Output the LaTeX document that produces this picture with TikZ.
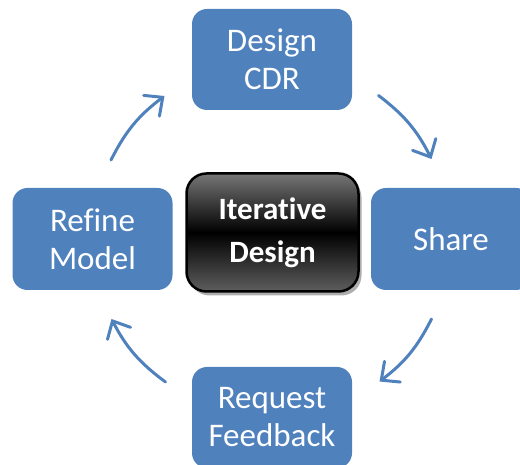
\documentclass[tikz,border=0pt]{standalone}
\usepackage{fontspec}
\setmainfont{Carlito}[Ligatures={NoCommon,NoRare,NoContextual}]
\usetikzlibrary{arrows.meta,shadows}
\definecolor{boxblue}{HTML}{4F81BD}
\definecolor{topgray}{HTML}{767676}
\definecolor{botgray}{HTML}{5E5E5E}
\tikzset{
  stagebox/.style={rectangle, rounded corners=15pt, fill=boxblue, draw=none,
    minimum width=160pt, minimum height=101pt, inner sep=0pt, align=center,
    text=white, font=\fontsize{33}{38}\selectfont},
  hubbox/.style={rectangle, rounded corners=20pt, draw=black, line width=2.5pt,
    top color=topgray, bottom color=botgray, middle color=black,
    minimum width=172pt, minimum height=118pt, inner sep=0pt, align=center,
    text=white, font=\bfseries\fontsize{31}{43}\selectfont,
    drop shadow={shadow xshift=3pt, shadow yshift=-4pt, fill=black!45, opacity=0.7}},
  cyclearrow/.style={draw=boxblue, line width=3pt, line cap=round,
    -{Straight Barb[length=14pt,width=26pt,line cap=round]}}
}
\begin{document}
\begin{tikzpicture}[x=1pt,y=1pt]
\useasboundingbox (0,0) rectangle (520,465);
\node[stagebox] (design) at (272,405.5) {Design\\CDR};
\node[stagebox, minimum height=102pt] (refine) at (92.5,226) {Refine\\Model};
\node[stagebox, minimum height=102pt] (share) at (451,226) {Share};
\node[stagebox] (request) at (272,47.5) {Request\\Feedback};
\node[hubbox] (hub) at (272.5,232.5) {Iterative\\Design};
\coordinate (tls) at (111,305);
\coordinate (tle) at (164.5,369);
\coordinate (trs) at (378.5,369.5);
\coordinate (tre) at (431.5,306);
\coordinate (brs) at (431.5,146);
\coordinate (bre) at (379.5,83.5);
\coordinate (bls) at (165.5,83);
\coordinate (ble) at (111.5,146);
\draw[cyclearrow] (tls) to[bend left=13] (tle);
\draw[cyclearrow] (trs) to[bend left=13] (tre);
\draw[cyclearrow] (brs) to[bend left=13] (bre);
\draw[cyclearrow] (bls) to[bend left=13] (ble);
\end{tikzpicture}
\end{document}
